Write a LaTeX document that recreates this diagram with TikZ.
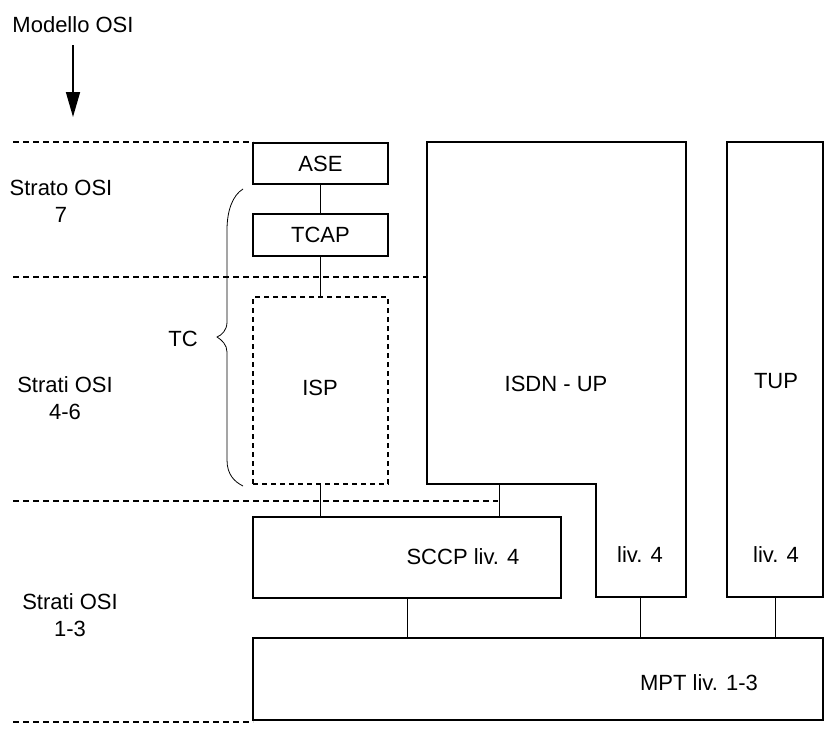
\documentclass[tikz,border=0pt]{standalone}
\usepackage{fontspec}
\setmainfont{Liberation Sans}
\usetikzlibrary{arrows.meta}

\begin{document}
\begin{tikzpicture}[x=1pt,y=-1pt,line join=miter,
                    font=\fontsize{22}{27}\selectfont]
\tikzstyle{every node}=[inner sep=0pt,outer sep=0pt]
\tikzstyle{box}=[draw=black,line width=1.6pt,fill=white]
\tikzstyle{dbox}=[draw=black,line width=1.6pt,dash pattern=on 5pt off 4pt]
\tikzstyle{strato}=[line width=1.6pt,dash pattern=on 6pt off 4pt]
\tikzstyle{link}=[line width=0.8pt]
\useasboundingbox (0,0) rectangle (826,731);

% modello OSI
\node (modello) at (73,25) {Modello OSI};
\coordinate (freccia) at (73,117);
\draw[line width=1.6pt,-{Triangle[length=25pt,width=14pt]}] (73,45) -- (freccia);

% linee di separazione degli strati
\draw[strato] (13,142) -- (253,142);
\draw[strato] (13,277) -- (427,277);
\draw[strato] (13,501) -- (498,501);
\draw[strato] (13,722) -- (253,722);

\node[align=center] (s7) at (61,201) {Strato OSI\\7};
\node[align=center] (s46) at (65,398) {Strati OSI\\4-6};
\node[align=center] (s13) at (70,615) {Strati OSI\\1-3};

% blocchi
\node[box,minimum width=135pt,minimum height=41pt] (ASE) at (320.5,163.5) {ASE};
\node[box,minimum width=135pt,minimum height=42pt] (TCAP) at (320.5,235) {TCAP};
\node[dbox,minimum width=135pt,minimum height=187pt] (ISP) at (320.5,390.5) {};
\node (ISPt) at (320,388) {ISP};

\draw[box] (427,142) -- (686,142) -- (686,597) -- (596,597) -- (596,484)
      -- (427,484) -- cycle;
\node (ISDN) at (556,384) {ISDN - UP};
\node (ISDN4) at (640,555) {liv. 4};
\coordinate (isdnb) at (499,484);
\coordinate (isdnf) at (640,597);

\node[box,minimum width=96pt,minimum height=455pt] (TUP) at (775,369.5) {};
\node (TUPt) at (776,381) {TUP};
\node (TUP4) at (776,555) {liv. 4};

\node[box,minimum width=308pt,minimum height=81pt] (SCCP) at (407,557.5) {};
\node (SCCPt) at (463,557) {SCCP liv. 4};

\node[box,minimum width=570pt,minimum height=82pt] (MPT) at (538,679) {};
\node (MPTt) at (699,683) {MPT liv. 1-3};

% collegamenti
\draw[link] (ASE) -- (TCAP);
\draw[link] (TCAP) -- (ISP);
\draw[link] (ISP.south) -- (ISP.south |- SCCP.north);
\draw[link] (isdnb) -- (isdnb |- SCCP.north);
\draw[link] (SCCP.south) -- (SCCP.south |- MPT.north);
\draw[link] (isdnf) -- (isdnf |- MPT.north);
\draw[link] (TUP.south) -- (TUP.south |- MPT.north);

% graffa TC
\draw[link] (243,189) .. controls (233,195) and (227,210) .. (227,230)
      -- (227,322) .. controls (227,330) and (222,335) .. (217,337)
      .. controls (222,340) and (227,345) .. (227,352)
      -- (227,460) .. controls (227,475) and (235,482) .. (243,486);
\node (TC) at (183,339) {TC};
\end{tikzpicture}
\end{document}
